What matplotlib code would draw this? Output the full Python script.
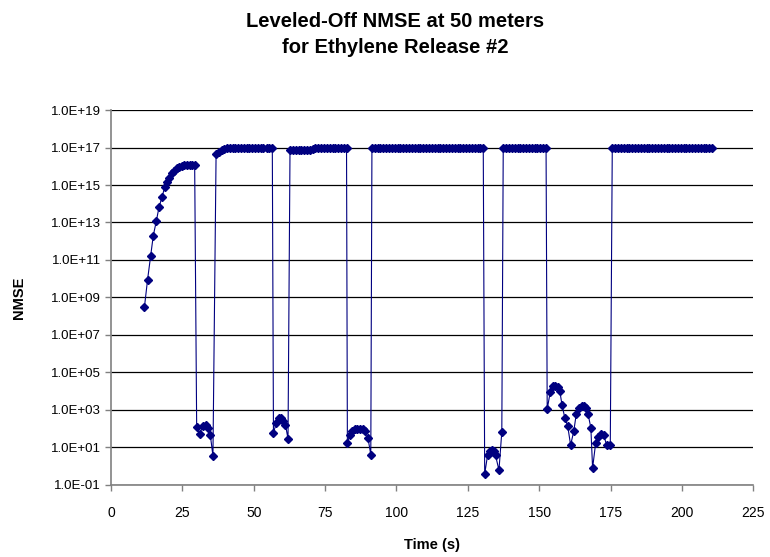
import numpy as np
import matplotlib.pyplot as plt
from matplotlib.ticker import FixedLocator, FuncFormatter, NullLocator

# time (s) and log10(NMSE)
t_rise = [11.7, 12.8, 13.9, 14.8, 15.9, 16.8, 17.9, 18.8, 19.7, 20.4, 21.3, 22.1,
          23.0, 23.9, 24.8, 25.7, 26.6, 27.5, 28.4, 29.3]
e_rise = [8.49, 9.95, 11.23, 12.30, 13.10, 13.81, 14.38, 14.88, 15.18, 15.36, 15.62, 15.76,
          15.89, 15.98, 16.03, 16.05, 16.05, 16.05, 16.05, 16.05]

t_low1 = [30.0, 31.0, 32.1, 33.1, 34.0, 34.8, 35.7]
e_low1 = [2.11, 1.71, 2.13, 2.20, 2.05, 1.64, 0.55]

t_hi2 = [36.8, 37.8, 38.7, 39.7, 40.7, 41.7, 42.6, 43.6, 44.6, 45.6, 46.5, 47.5,
         48.5, 49.5, 50.4, 51.4, 52.4, 53.4, 54.5, 55.5, 56.5]
e_hi2 = [16.63, 16.76, 16.85, 16.90, 16.95, 16.98, 16.99, 17.0, 17.0, 17.0, 17.0, 17.0,
         17.0, 17.0, 17.0, 17.0, 17.0, 17.0, 17.0, 17.0, 17.0]

t_low2 = [56.9, 57.9, 58.7, 59.5, 60.3, 61.1, 62.0]
e_low2 = [1.77, 2.32, 2.55, 2.55, 2.40, 2.22, 1.46]

t_hi3 = [62.7, 63.7, 64.7, 65.7, 66.6, 67.6, 68.6, 69.6, 70.6, 71.6, 72.6, 73.6,
         74.6, 75.6, 76.6, 77.6, 78.6, 79.6, 80.6, 81.6, 82.5]
e_hi3 = [16.88, 16.88, 16.88, 16.88, 16.88, 16.88, 16.88, 16.89, 16.93, 16.97, 16.99, 17.0,
         17.0, 17.0, 17.0, 17.0, 17.0, 17.0, 17.0, 17.0, 17.0]

t_low3 = [82.8, 83.7, 84.4, 85.3, 86.3, 87.2, 88.2, 89.1, 90.0, 91.0]
e_low3 = [1.26, 1.69, 1.89, 1.98, 2.00, 1.98, 1.96, 1.86, 1.51, 0.62]

t_hi4 = [91.4, 92.4, 93.4, 94.4, 95.4, 96.4, 97.4, 98.4, 99.4, 100.4,
         101.4, 102.4, 103.4, 104.4, 105.4, 106.4, 107.4, 108.4, 109.4, 110.4,
         111.4, 112.4, 113.4, 114.4, 115.4, 116.4, 117.4, 118.4, 119.4, 120.4,
         121.4, 122.4, 123.4, 124.4, 125.4, 126.4, 127.4, 128.4, 129.4, 130.4]
e_hi4 = [17.0, 17.0, 17.0, 17.0, 17.0, 17.0, 17.0, 17.0, 17.0, 17.0,
         17.0, 17.0, 17.0, 17.0, 17.0, 17.0, 17.0, 17.0, 17.0, 17.0,
         17.0, 17.0, 17.0, 17.0, 17.0, 17.0, 17.0, 17.0, 17.0, 17.0,
         17.0, 17.0, 17.0, 17.0, 17.0, 17.0, 17.0, 17.0, 17.0, 17.0]

t_low4 = [130.9, 131.9, 132.7, 133.4, 134.1, 134.7, 135.9, 136.9]
e_low4 = [-0.42, 0.58, 0.80, 0.89, 0.82, 0.58, -0.21, 1.84]

t_hi5 = [137.4, 138.4, 139.4, 140.4, 141.4, 142.4, 143.4, 144.4,
         145.4, 146.4, 147.4, 148.4, 149.4, 150.4, 151.4, 152.4]
e_hi5 = [17.0, 17.0, 17.0, 17.0, 17.0, 17.0, 17.0, 17.0,
         17.0, 17.0, 17.0, 17.0, 17.0, 17.0, 17.0, 17.0]

t_low5 = [152.8, 153.9, 154.7, 155.6, 156.6, 157.2, 158.0, 159.0, 160.0, 161.0,
          162.1, 163.0, 163.9, 164.9, 165.8, 166.4, 167.1, 168.1, 168.7, 169.8,
          170.6, 171.6, 172.6, 173.6, 174.9]
e_low5 = [3.05, 3.98, 4.26, 4.29, 4.21, 4.02, 3.26, 2.56, 2.13, 1.13,
          1.86, 2.80, 3.11, 3.19, 3.19, 3.12, 2.80, 2.04, -0.10, 1.26,
          1.58, 1.71, 1.65, 1.14, 1.13]

t_hi6 = [175.6, 176.6, 177.6, 178.6, 179.6, 180.6, 181.6, 182.6, 183.6, 184.6,
         185.6, 186.6, 187.6, 188.6, 189.6, 190.6, 191.6, 192.6, 193.6, 194.6,
         195.6, 196.6, 197.6, 198.6, 199.6, 200.6, 201.6, 202.6, 203.6, 204.6,
         205.6, 206.6, 207.6, 208.6, 209.6, 210.6]
e_hi6 = [17.0, 17.0, 17.0, 17.0, 17.0, 17.0, 17.0, 17.0, 17.0, 17.0,
         17.0, 17.0, 17.0, 17.0, 17.0, 17.0, 17.0, 17.0, 17.0, 17.0,
         17.0, 17.0, 17.0, 17.0, 17.0, 17.0, 17.0, 17.0, 17.0, 17.0,
         17.0, 17.0, 17.0, 17.0, 17.0, 17.0]

time = np.concatenate([t_rise, t_low1, t_hi2, t_low2, t_hi3, t_low3,
                       t_hi4, t_low4, t_hi5, t_low5, t_hi6])
nmse = 10.0 ** np.concatenate([e_rise, e_low1, e_hi2, e_low2, e_hi3, e_low3,
                               e_hi4, e_low4, e_hi5, e_low5, e_hi6])

xticks = [0, 25, 50, 75, 100, 125, 150, 175, 200, 225]
yticks = [1e-1, 1e1, 1e3, 1e5, 1e7, 1e9, 1e11, 1e13, 1e15, 1e17, 1e19]

plt.rcParams['font.family'] = ['Liberation Sans', 'DejaVu Sans']

fig = plt.figure(figsize=(7.7, 5.57), dpi=100)
ax = fig.add_axes([0.1442, 0.1293, 0.8341, 0.6732])

ax.plot(time, nmse, color='#000080', lw=0.8, marker='D', ms=4.0,
        mfc='#000080', mec='#000080', zorder=3)

ax.set_yscale('log')
ax.set_ylim(1e-1, 1e19)
ax.set_xlim(0, 225)
ax.yaxis.set_major_locator(FixedLocator(yticks))
ax.yaxis.set_minor_locator(NullLocator())
ax.yaxis.set_major_formatter(FuncFormatter(
    lambda v, p: '1.0E%+03d' % int(round(np.log10(v)))))
ax.set_xticks(xticks)

ax.grid(axis='y', color='black', lw=0.9)
for s in ['top', 'right']:
    ax.spines[s].set_visible(False)
for s in ['left', 'bottom']:
    ax.spines[s].set_color('#808080')
    ax.spines[s].set_linewidth(1.2)
ax.tick_params(axis='both', colors='#808080', labelcolor='black',
               labelsize=9.5, length=4, width=1.0)
ax.tick_params(axis='x', pad=11, labelsize=10)

ax.set_xlabel('Time (s)', fontsize=10.5, fontweight='bold', labelpad=13)
ax.set_ylabel('NMSE', fontsize=10.5, fontweight='bold', labelpad=18)

fig.text(0.513, 0.962, 'Leveled-Off NMSE at 50 meters', ha='center', va='center',
         fontsize=14.5, fontweight='bold')
fig.text(0.513, 0.914, 'for Ethylene Release #2', ha='center', va='center',
         fontsize=14.5, fontweight='bold')

fig.savefig('out.png', dpi=100)
